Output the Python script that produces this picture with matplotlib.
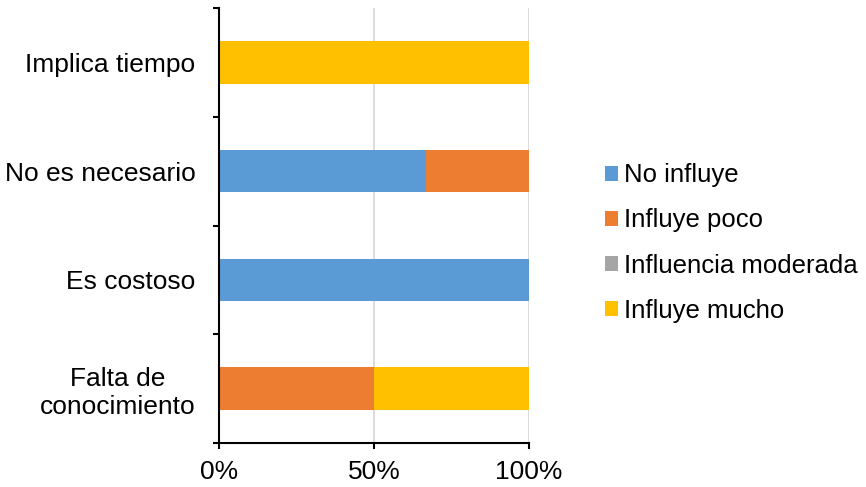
import matplotlib
matplotlib.use("Agg")
import matplotlib.pyplot as plt
from matplotlib.patches import Patch
from matplotlib.ticker import FixedLocator, PercentFormatter

plt.rcParams['font.family'] = ['Liberation Sans', 'DejaVu Sans']

categories = ["Falta de\nconocimiento", "Es costoso", "No es necesario", "Implica tiempo"]
series_names = ["No influye", "Influye poco", "Influencia moderada", "Influye mucho"]
no_influye = [0, 100, 66.7, 0]
influye_poco = [50, 0, 33.3, 0]
influencia_moderada = [0, 0, 0, 0]
influye_mucho = [50, 0, 0, 100]
colors = ["#5B9BD5", "#ED7D31", "#A5A5A5", "#FFC000"]

fig = plt.figure(figsize=(8.66, 4.87), dpi=100)
ax = fig.add_axes([219 / 866, 44 / 487, 310 / 866, 435 / 487])

series = [no_influye, influye_poco, influencia_moderada, influye_mucho]
ypos = list(range(len(categories)))
left = [0.0] * len(categories)
for vals, col in zip(series, colors):
    ax.barh(ypos, vals, left=left, height=0.39, color=col, zorder=3)
    left = [l + v for l, v in zip(left, vals)]

ax.set_xlim(0, 100)
ax.set_ylim(-0.5, len(categories) - 0.5)
ax.xaxis.set_major_locator(FixedLocator([0, 50, 100]))
ax.xaxis.set_major_formatter(PercentFormatter(decimals=0))
ax.grid(axis='x', color='#d9d9d9', linewidth=1.3, zorder=0)

ax.set_yticks(ypos)
ax.set_yticklabels(categories)
ax.set_yticks([y - 0.5 for y in range(len(categories) + 1)], minor=True)
ax.tick_params(axis='y', which='major', length=0, pad=17, labelsize=19)
ax.tick_params(axis='y', which='minor', length=4.5, width=1.5, direction='out')
ax.tick_params(axis='x', which='major', length=4.5, width=1.5, direction='out', pad=8, labelsize=19)
for lbl in ax.get_yticklabels():
    lbl.set_multialignment('center')

for s in ('top', 'right'):
    ax.spines[s].set_visible(False)
for s in ('left', 'bottom'):
    ax.spines[s].set_linewidth(1.5)
    ax.spines[s].set_zorder(4)

handles = [Patch(facecolor=c, edgecolor='none') for c in colors]
fig.legend(handles, series_names, loc='center left',
           bbox_to_anchor=(605 / 866, 1 - 243 / 487), frameon=False,
           fontsize=18.5, handlelength=0.5, handleheight=0.5,
           handletextpad=0.25, labelspacing=0.82, borderaxespad=0,
           borderpad=0)

fig.savefig("out.png", dpi=100)
